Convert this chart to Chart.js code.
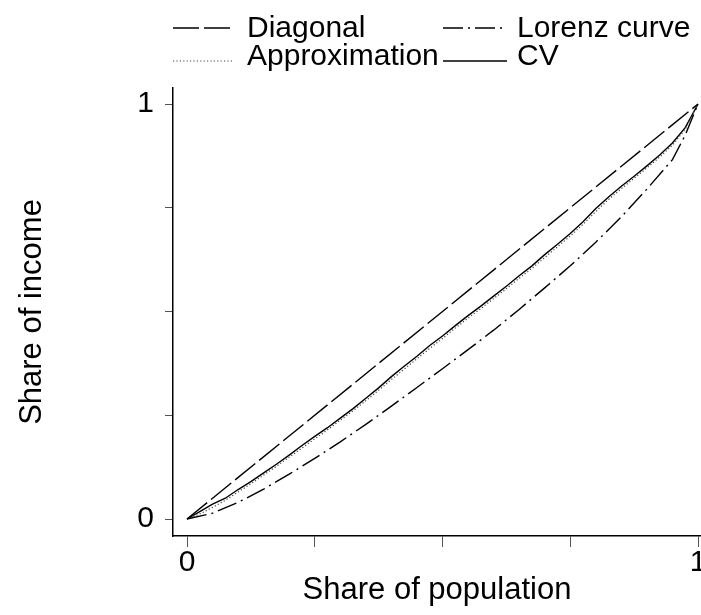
<!DOCTYPE html>
<html>
<head>
<meta charset="utf-8">
<script src="https://cdn.jsdelivr.net/npm/chart.js@4"></script>
<style>
  html, body { margin: 0; padding: 0; background: #fff; }
  #wrap { width: 701px; height: 615px; position: relative; }
</style>
</head>
<body>
<div id="wrap"><canvas id="c" width="701" height="615"></canvas></div>
<script>
// ---- data ----
const diagonalX = [0, 1];
const diagonalY = [0, 1];

const lorenzX = [0, 0.05, 0.10, 0.15, 0.20, 0.25, 0.30, 0.35, 0.40, 0.45, 0.50, 0.55, 0.60, 0.65, 0.70, 0.75, 0.80, 0.85, 0.90, 0.95, 0.975, 1];
const lorenzY = [0, 0.014, 0.040, 0.072, 0.108, 0.146, 0.186, 0.228, 0.272, 0.317, 0.362, 0.408, 0.455, 0.505, 0.557, 0.610, 0.667, 0.728, 0.795, 0.866, 0.925, 1];

const cvX = [0, 0.025, 0.05, 0.075, 0.10, 0.125, 0.15, 0.175, 0.20, 0.225, 0.25, 0.275, 0.30, 0.325, 0.35, 0.375, 0.40, 0.425, 0.45, 0.475, 0.50,
             0.525, 0.55, 0.575, 0.60, 0.625, 0.65, 0.675, 0.70, 0.725, 0.75, 0.775, 0.80, 0.825, 0.85, 0.875, 0.90, 0.925, 0.95, 0.975, 1];
const cvY = [0, 0.018, 0.036, 0.050, 0.071, 0.090, 0.111, 0.132, 0.154, 0.177, 0.199, 0.220, 0.243, 0.266, 0.291, 0.316, 0.343, 0.368, 0.392, 0.418, 0.441,
             0.466, 0.490, 0.513, 0.537, 0.561, 0.586, 0.610, 0.637, 0.662, 0.688, 0.716, 0.748, 0.776, 0.802, 0.826, 0.851, 0.877, 0.906, 0.943, 1];
const approxY = [0, 0.012, 0.028, 0.045, 0.065, 0.085, 0.106, 0.127, 0.149, 0.171, 0.193, 0.215, 0.238, 0.261, 0.285, 0.310, 0.336, 0.361, 0.386, 0.411, 0.435,
             0.460, 0.484, 0.507, 0.531, 0.555, 0.580, 0.604, 0.630, 0.656, 0.682, 0.710, 0.741, 0.770, 0.796, 0.821, 0.846, 0.872, 0.901, 0.939, 1];

const seriesLabels = ['Diagonal', 'Lorenz curve', 'Approximation', 'CV'];
const tickValues = [0, 0.25, 0.5, 0.75, 1];
const tickLabelMap = {0: '0', 1: '1'};
const xTitle = 'Share of population';
const yTitle = 'Share of income';

const pts = (xs, ys) => xs.map((x, i) => ({x: x, y: ys[i]}));

const FONT = "'Liberation Sans', Arial, Helvetica, sans-serif";

const legendPlugin = {
  id: 'stataLegend',
  afterDraw(chart) {
    const ctx = chart.ctx;
    const cols = [{x0: 173, x1: 232, tx: 247}, {x0: 443, x1: 507, tx: 517}];
    const rows = [{ly: 28, ty: 37}, {ly: 61, ty: 65}];
    ctx.save();
    chart.data.datasets.forEach((ds, i) => {
      const c = cols[i % 2], r = rows[Math.floor(i / 2)];
      ctx.beginPath();
      ctx.setLineDash(ds.borderDash || []);
      ctx.lineWidth = ds.borderWidth;
      ctx.strokeStyle = ds.borderColor;
      ctx.moveTo(c.x0, r.ly);
      ctx.lineTo(c.x1, r.ly);
      ctx.stroke();
      ctx.setLineDash([]);
      ctx.fillStyle = '#000';
      ctx.font = '30px ' + FONT;
      ctx.textBaseline = 'alphabetic';
      ctx.textAlign = 'left';
      ctx.fillText(ds.label, c.tx, r.ty);
    });
    ctx.restore();
  }
};

const ctx = document.getElementById('c').getContext('2d');
new Chart(ctx, {
  type: 'line',
  data: {
    datasets: [
      { label: seriesLabels[0], data: pts(diagonalX, diagonalY), borderColor: '#000', borderWidth: 1.4, borderDash: [26, 5], pointRadius: 0, tension: 0 },
      { label: seriesLabels[1], data: pts(lorenzX, lorenzY), borderColor: '#000', borderWidth: 1.4, borderDash: [20, 5, 2, 5], pointRadius: 0, tension: 0 },
      { label: seriesLabels[2], data: pts(cvX, approxY), borderColor: '#444', borderWidth: 1.2, borderDash: [1.2, 2.2], pointRadius: 0, tension: 0 },
      { label: seriesLabels[3], data: pts(cvX, cvY), borderColor: '#000', borderWidth: 1.4, pointRadius: 0, tension: 0 }
    ]
  },
  options: {
    responsive: false,
    animation: false,
    layout: { padding: { top: 88, left: 0, right: 0, bottom: 0 } },
    plugins: { legend: { display: false }, tooltip: { enabled: false } },
    scales: {
      x: {
        type: 'linear',
        min: -14 / 511,
        max: 514 / 511,
        afterBuildTicks(scale) { scale.ticks = tickValues.map(v => ({value: v})); },
        afterFit(scale) { scale.height = 79; scale.paddingLeft = 0; scale.paddingRight = 0; },
        ticks: {
          autoSkip: false, maxRotation: 0, padding: -2,
          color: '#000', font: { family: FONT, size: 30 },
          callback: (v) => tickLabelMap[v] !== undefined ? tickLabelMap[v] : ''
        },
        grid: { display: true, drawOnChartArea: false, drawTicks: true, tickLength: 11, color: '#555', lineWidth: 1 },
        border: { display: true, color: '#000', width: 1.5 },
        title: { display: true, text: xTitle, color: '#000', font: { family: FONT, size: 31 }, padding: { top: 0, bottom: 6 } }
      },
      y: {
        type: 'linear',
        min: -17 / 415,
        max: 1 + 16 / 415,
        afterBuildTicks(scale) { scale.ticks = tickValues.map(v => ({value: v})); },
        afterFit(scale) { scale.width = 173; scale.paddingTop = 0; scale.paddingBottom = 0; },
        ticks: {
          autoSkip: false, padding: 11,
          color: '#000', font: { family: FONT, size: 30 },
          callback: (v) => tickLabelMap[v] !== undefined ? tickLabelMap[v] : ''
        },
        grid: { display: true, drawOnChartArea: false, drawTicks: true, tickLength: 8, color: '#555', lineWidth: 1 },
        border: { display: true, color: '#000', width: 1.5 },
        title: { display: true, text: yTitle, color: '#000', font: { family: FONT, size: 31 }, padding: { top: 14, bottom: 0 } }
      }
    }
  },
  plugins: [legendPlugin]
});
</script>
</body>
</html>
